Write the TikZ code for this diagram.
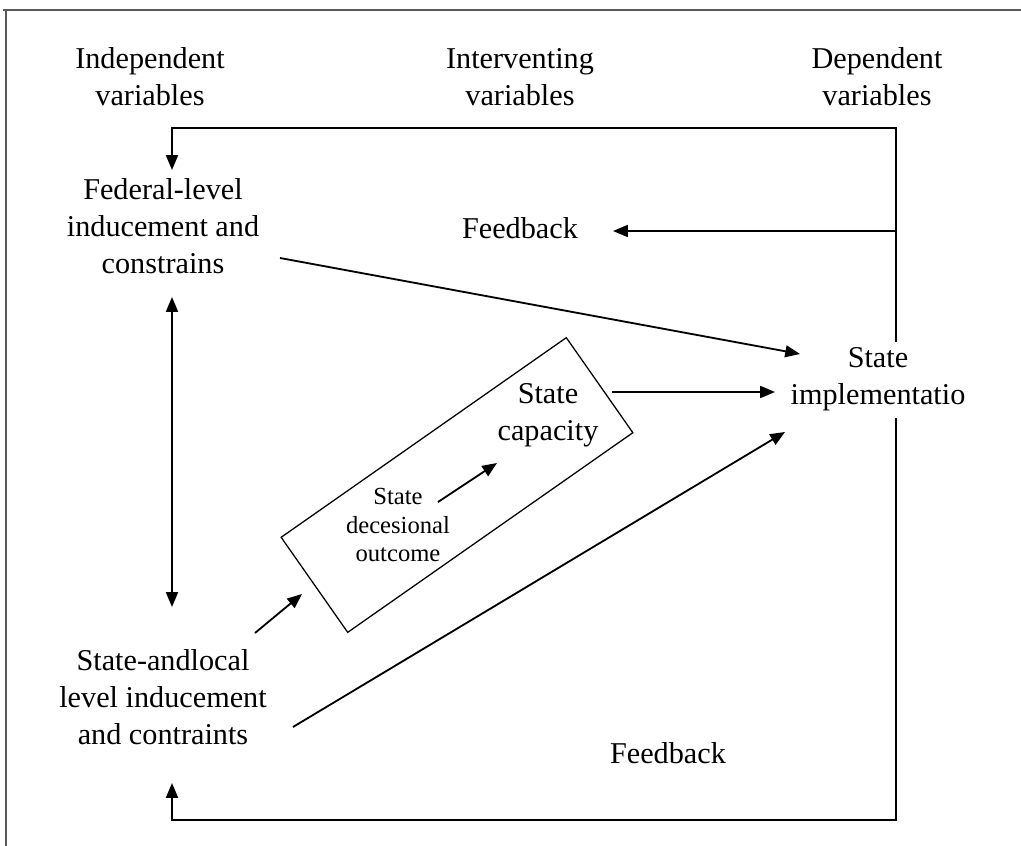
\documentclass[tikz,border=0pt]{standalone}
\usepackage{fontspec}
\setmainfont{Liberation Serif}
\usetikzlibrary{positioning,arrows.meta}

\begin{document}
\begin{tikzpicture}[x=0.025cm,y=-0.025cm,
  lbl/.style={align=center,inner sep=0pt,font=\fontsize{21.5}{26.5}\selectfont},
  small/.style={align=center,inner sep=0pt,font=\fontsize{17.5}{20.6}\selectfont},
  arr/.style={-{Triangle[length=10.5pt,width=8.5pt]},line width=1.3pt},
  dbl/.style={{Triangle[length=10.5pt,width=8.5pt]}-{Triangle[length=10.5pt,width=8.5pt]},line width=1.3pt},
  loop/.style={line width=1.1pt}]
  \useasboundingbox (0,0) rectangle (1021,846);

  % page frame
  \draw[line width=1pt,gray!70!black] (3,10) -- (1021,10);
  \draw[line width=1pt,gray!70!black] (6,10) -- (6,846);

  % column headers
  \node[lbl] (indep) at (150,77) {Independent\\variables};
  \node[lbl] (interv) at (520,77) {Interventing\\variables};
  \node[lbl] (dep) at (877,77) {Dependent\\variables};

  % variables
  \node[lbl] (fed) at (163,226) {Federal-level\\inducement and\\constrains};
  \node[lbl] (sal) at (163,697) {State-andlocal\\level inducement\\and contraints};
  \node[lbl] (impl) at (878,379) {State\\implementatio};
  \node[lbl] (fbtop) at (520,228) {Feedback};
  \node[lbl] (fbbot) at (668,753) {Feedback};

  % rotated box with the intervening variables
  \node[draw,line width=0.9pt,rotate=35,minimum width=8.7cm,minimum height=2.9cm] (capbox) at (457,485) {};
  \node[lbl] (cap) at (548,415) {State\\capacity};
  \node[small] (dec) at (398,525) {State\\decesional\\outcome};

  % end points of the connectors
  \coordinate (fed-out) at (280,258);
  \coordinate (impl-in1) at (800,354);
  \coordinate (cap-out) at (612,392);
  \coordinate (impl-in2) at (775,392);
  \coordinate (sal-out) at (293,727);
  \coordinate (impl-in3) at (785,432);
  \coordinate (sal-box) at (255,633);
  \coordinate (box-in) at (302,594);
  \coordinate (dec-out) at (438,502);
  \coordinate (cap-in) at (497,463);
  \coordinate (fed-bot) at (172,297);
  \coordinate (sal-top) at (172,607);

  % feedback loops
  \coordinate (impl-top) at (896,342);
  \coordinate (impl-bot) at (896,418);
  \coordinate (loop-tr) at (896,128);
  \coordinate (loop-tl) at (172,128);
  \coordinate (fed-top) at (172,170);
  \coordinate (loop-br) at (896,820);
  \coordinate (loop-bl) at (172,820);
  \coordinate (sal-bot) at (172,783);
  \coordinate (fb-split) at (896,231);
  \coordinate (fb-in) at (613,231);

  \draw[arr] (fed-out) -- (impl-in1);
  \draw[arr] (cap-out) -- (impl-in2);
  \draw[arr] (sal-out) -- (impl-in3);
  \draw[arr] (sal-box) -- (box-in);
  \draw[arr] (dec-out) -- (cap-in);
  \draw[dbl] (fed-bot) -- (sal-top);

  \draw[loop,arr] (impl-top) -- (loop-tr) -- (loop-tl) -- (fed-top);
  \draw[loop,arr] (fb-split) -- (fb-in);
  \draw[loop,arr] (impl-bot) -- (loop-br) -- (loop-bl) -- (sal-bot);
\end{tikzpicture}
\end{document}
